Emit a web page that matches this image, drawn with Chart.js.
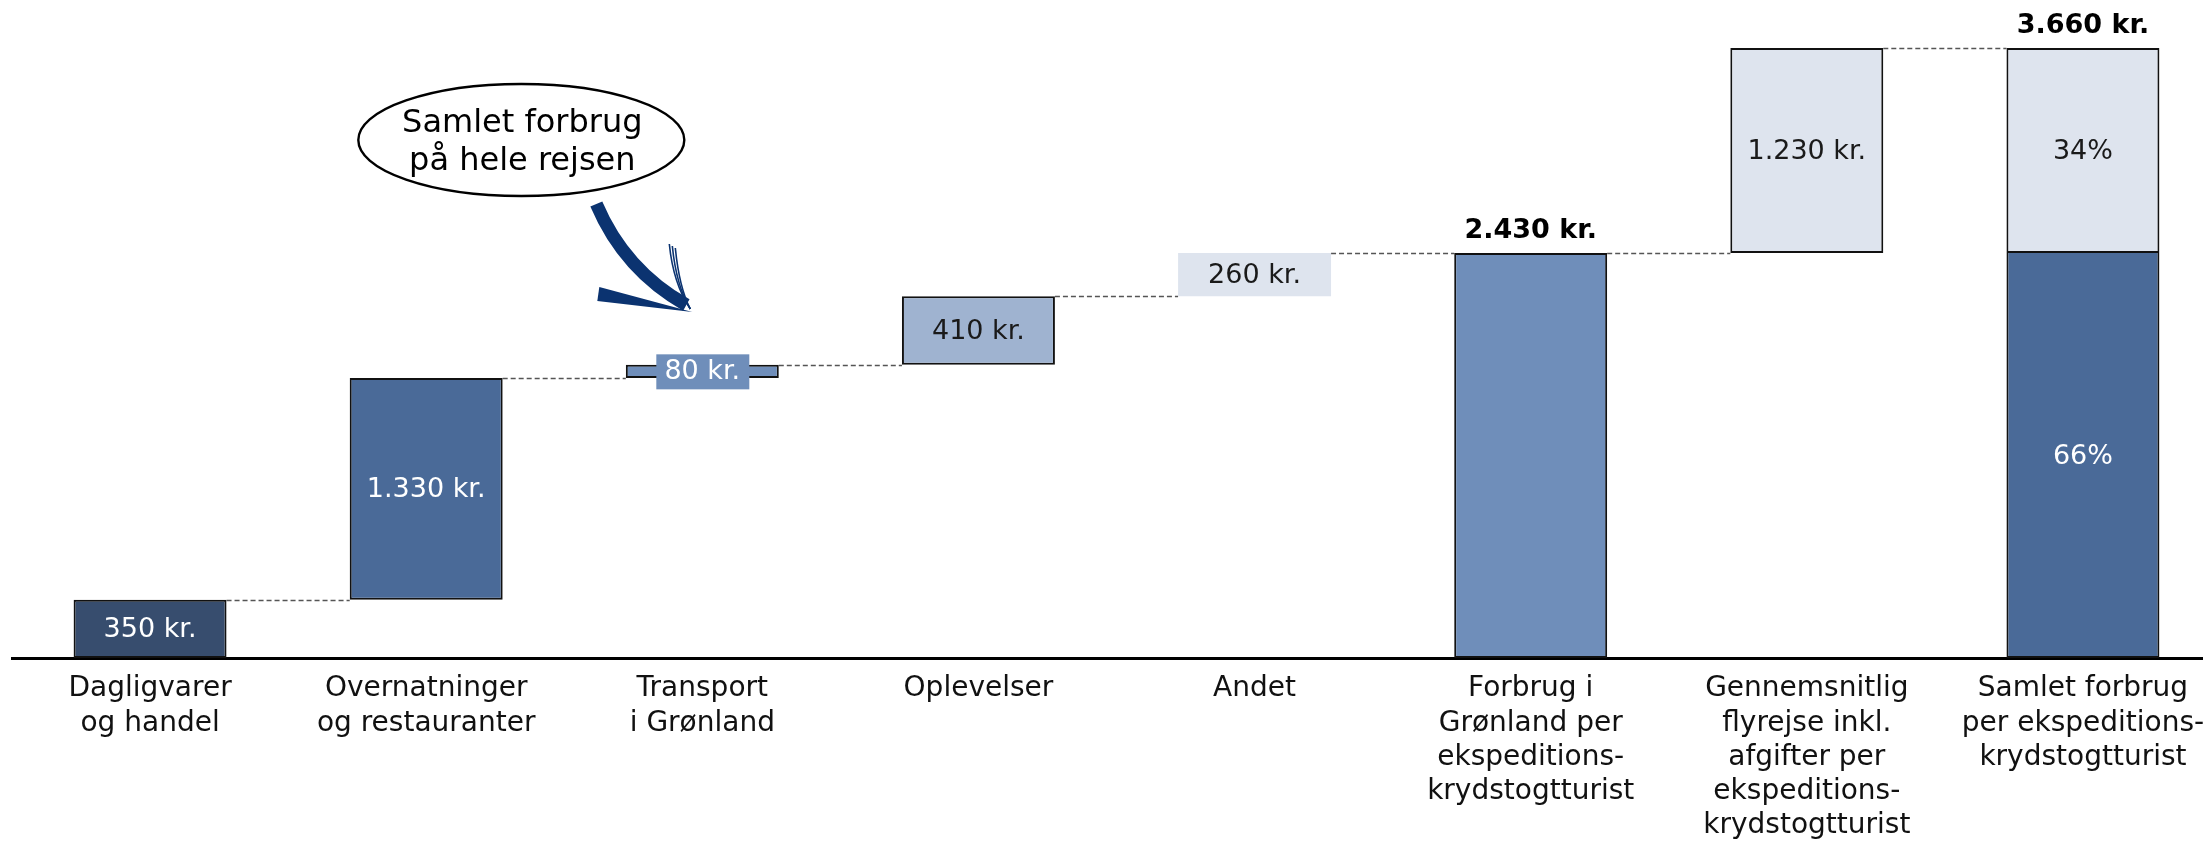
<!DOCTYPE html>
<html>
<head>
<meta charset="utf-8">
<script src="https://cdn.jsdelivr.net/npm/chart.js@4.4.1/dist/chart.umd.min.js"></script>
<style>
  html, body { margin: 0; padding: 0; background: #fff; overflow: hidden; }
  #wrap { width: 2222px; height: 842px; position: relative; }
</style>
</head>
<body>
<div id="wrap"><canvas id="waterfallChart"></canvas></div>
<script>
// data (kr. per ekspeditions-krydstogtturist)
const categories = [
    ['Dagligvarer', 'og handel'],
    ['Overnatninger', 'og restauranter'],
    ['Transport', 'i Grønland'],
    ['Oplevelser'],
    ['Andet'],
    ['Forbrug i', 'Grønland per', 'ekspeditions-', 'krydstogtturist'],
    ['Gennemsnitlig', 'flyrejse inkl.', 'afgifter per', 'ekspeditions-', 'krydstogtturist'],
    ['Samlet forbrug', 'per ekspeditions-', 'krydstogtturist']
];
const stepValues = [350, 1330, 80, 410, 260];
const greenlandTotal = 2430;
const flightValue = 1230;
const tripTotal = 3660;
const shareLabels = ['66%', '34%'];

const FONT = 'DejaVu Sans';
const fmtKr = v => String(v).replace(/\B(?=(\d{3})+(?!\d))/g, '.') + ' kr.';

// floating ranges for the waterfall
const ranges = [];
let run = 0;
stepValues.forEach(v => { ranges.push([run, run + v]); run += v; });
ranges.push([0, greenlandTotal]);
ranges.push([greenlandTotal, greenlandTotal + flightValue]);
ranges.push([0, greenlandTotal]);
const topPart = categories.map((c, i) => i === categories.length - 1 ? [greenlandTotal, tripTotal] : null);

const fills = ['#374d6e', '#4a6a98', '#6f8eba', '#9fb3d0', '#dee4ee', '#6f8eba', '#dee4ee', '#4a6a98'];
const borders = [2, 2, 2, 2, 0, 2, 2, 2];

// label text per bar: inside text, colour, style
const inside = [
    { text: fmtKr(stepValues[0]), color: '#fff' },
    { text: fmtKr(stepValues[1]), color: '#fff' },
    { text: fmtKr(stepValues[2]), color: '#fff', box: '#6f8eba' },
    { text: fmtKr(stepValues[3]), color: '#1a1a1a' },
    { text: fmtKr(stepValues[4]), color: '#1a1a1a' },
    null,
    { text: fmtKr(flightValue), color: '#1a1a1a' },
    { text: shareLabels[0], color: '#fff' }
];
const above = { 5: fmtKr(greenlandTotal), 7: fmtKr(tripTotal) };

const connectors = {
    id: 'connectors',
    beforeDatasetsDraw(chart) {
        const ctx = chart.ctx;
        const meta = chart.getDatasetMeta(0);
        const y = chart.scales.y;
        const links = [[0, 1], [1, 2], [2, 3], [3, 4], [4, 5], [5, 6], [6, 7]];
        ctx.save();
        ctx.strokeStyle = '#555';
        ctx.lineWidth = 1.5;
        ctx.setLineDash([5, 3]);
        links.forEach(([a, b]) => {
            const level = ranges[a][1];
            const py = Math.round(y.getPixelForValue(level)) + 0.5;
            const x1 = meta.data[a].x + meta.data[a].width / 2;
            const x2 = meta.data[b].x - meta.data[b].width / 2;
            ctx.beginPath();
            ctx.moveTo(x1, py);
            ctx.lineTo(x2, py);
            ctx.stroke();
        });
        ctx.restore();
    }
};

const valueLabels = {
    id: 'valueLabels',
    afterDatasetsDraw(chart) {
        const ctx = chart.ctx;
        const meta = chart.getDatasetMeta(0);
        const meta2 = chart.getDatasetMeta(1);
        ctx.save();
        ctx.textAlign = 'center';
        ctx.textBaseline = 'middle';
        inside.forEach((lab, i) => {
            if (!lab) return;
            const bar = meta.data[i];
            const cy = (bar.y + bar.base) / 2;
            ctx.font = '27px "' + FONT + '"';
            if (lab.box) {
                ctx.fillStyle = lab.box;
                ctx.fillRect(bar.x - 46, cy - 17, 93, 35);
            }
            ctx.fillStyle = lab.color;
            ctx.fillText(lab.text, bar.x, cy + 1);
        });
        const last = meta2.data[categories.length - 1];
        ctx.fillStyle = '#1a1a1a';
        ctx.fillText(shareLabels[1], last.x, (last.y + last.base) / 2 + 1);
        ctx.font = 'bold 27px "' + FONT + '"';
        ctx.fillStyle = '#000';
        Object.keys(above).forEach(k => {
            const i = +k;
            const bar = i === categories.length - 1 ? last : meta.data[i];
            ctx.fillText(above[k], bar.x, bar.y - 22);
        });
        ctx.restore();
    }
};

const callout = {
    id: 'callout',
    afterDraw(chart) {
        const ctx = chart.ctx;
        const x0 = chart.scales.x.getPixelForValue(2);
        const t = chart.chartArea.top;
        ctx.save();
        // bubble
        ctx.beginPath();
        ctx.ellipse(x0 - 181, t + 132, 163, 56, 0, 0, Math.PI * 2);
        ctx.fillStyle = '#fff';
        ctx.fill();
        ctx.lineWidth = 2.4;
        ctx.strokeStyle = '#000';
        ctx.stroke();
        ctx.fillStyle = '#000';
        ctx.font = '32px "' + FONT + '"';
        ctx.textAlign = 'center';
        ctx.textBaseline = 'alphabetic';
        ctx.fillText('Samlet forbrug', x0 - 180, t + 124);
        ctx.fillText('på hele rejsen', x0 - 180, t + 162);
        // arrow
        ctx.strokeStyle = '#0b3370';
        ctx.fillStyle = '#0b3370';
        ctx.lineCap = 'butt';
        ctx.lineWidth = 13;
        ctx.beginPath();
        ctx.moveTo(x0 - 106, t + 196);
        ctx.quadraticCurveTo(x0 - 78, t + 262, x0 - 16, t + 297);
        ctx.stroke();
        ctx.beginPath();
        ctx.moveTo(x0 - 103, t + 279);
        ctx.lineTo(x0 - 10, t + 304);
        ctx.lineTo(x0 - 105, t + 293);
        ctx.closePath();
        ctx.fill();
        ctx.lineWidth = 1.6;
        [[-33, 236], [-30, 238], [-27, 240]].forEach(([dx, dy]) => {
            ctx.beginPath();
            ctx.moveTo(x0 + dx, t + dy);
            ctx.quadraticCurveTo(x0 + dx + 4, t + dy + 40, x0 - 12, t + 301);
            ctx.stroke();
        });
        ctx.restore();
    }
};

const ctx = document.getElementById('waterfallChart').getContext('2d');
const waterfallChart = new Chart(ctx, {
    type: 'bar',
    data: {
        labels: categories,
        datasets: [{
            data: ranges,
            backgroundColor: fills,
            borderColor: '#111',
            borderWidth: borders,
            borderSkipped: c => c.dataIndex === categories.length - 1 ? 'top' : false,
            grouped: false,
            barPercentage: 0.554,
            categoryPercentage: 1
        }, {
            data: topPart,
            backgroundColor: '#dee4ee',
            borderColor: '#111',
            borderWidth: 2,
            borderSkipped: false,
            grouped: false,
            barPercentage: 0.554,
            categoryPercentage: 1
        }]
    },
    options: {
        responsive: true,
        maintainAspectRatio: false,
        animation: false,
        layout: { padding: { top: 8, left: 12, right: 1, bottom: 0 } },
        plugins: {
            legend: { display: false },
            tooltip: { enabled: false }
        },
        scales: {
            x: {
                grid: { display: false, drawTicks: false },
                border: { display: true, color: '#000', width: 3 },
                ticks: {
                    color: '#111',
                    font: { family: FONT, size: 28, lineHeight: 1.22 },
                    padding: 14,
                    maxRotation: 0,
                    autoSkip: false
                },
                afterFit: s => { s.height = 184; }
            },
            y: {
                display: false,
                min: 0,
                max: 3900
            }
        }
    },
    plugins: [connectors, valueLabels, callout]
});
</script>
</body>
</html>
